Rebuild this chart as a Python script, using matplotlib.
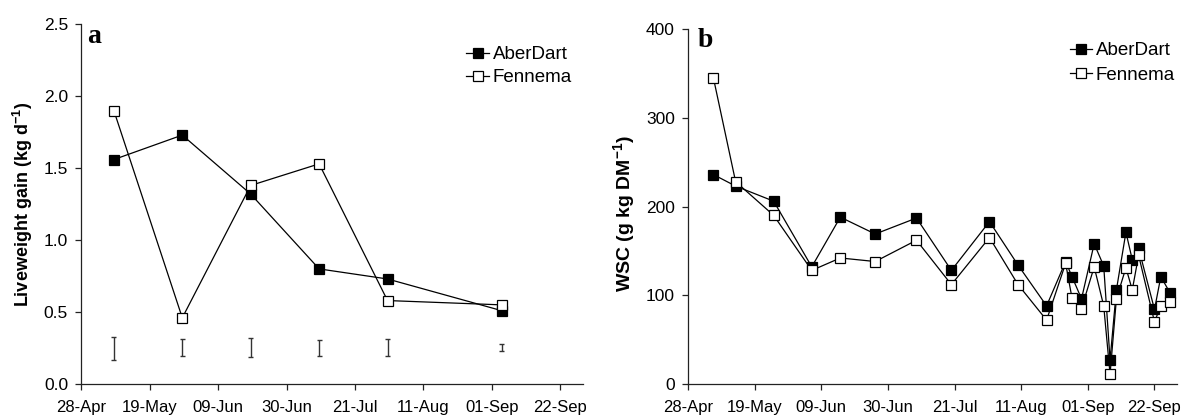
import matplotlib
matplotlib.use("Agg")
import matplotlib.pyplot as plt
import matplotlib.dates as mdates
import matplotlib.ticker as mticker
import pandas as pd

plt.rcParams['font.family'] = ['Liberation Sans', 'DejaVu Sans']
plt.rcParams['mathtext.fontset'] = 'custom'
plt.rcParams['mathtext.rm'] = 'Liberation Sans'
plt.rcParams['mathtext.bf'] = 'Liberation Sans:bold'

# ---- Panel a: liveweight gain ----
lwg_dates = pd.to_datetime(['2005-05-08', '2005-05-29', '2005-06-19',
                            '2005-07-10', '2005-07-31', '2005-09-04'])
lwg_aberdart = [1.56, 1.73, 1.32, 0.80, 0.73, 0.51]
lwg_fennema = [1.90, 0.46, 1.38, 1.53, 0.58, 0.55]
err_low = [0.17, 0.195, 0.185, 0.197, 0.195, 0.227]
err_high = [0.33, 0.31, 0.32, 0.306, 0.31, 0.276]

# ---- Panel b: WSC ----
wsc_dates = pd.to_datetime(['2005-05-06', '2005-05-13', '2005-05-25', '2005-06-06',
                            '2005-06-15', '2005-06-26', '2005-07-09', '2005-07-20',
                            '2005-08-01', '2005-08-10', '2005-08-19', '2005-08-25',
                            '2005-08-27', '2005-08-30', '2005-09-03', '2005-09-06',
                            '2005-09-08', '2005-09-10', '2005-09-13', '2005-09-15',
                            '2005-09-17', '2005-09-22', '2005-09-24', '2005-09-27'])
wsc_aberdart = [236, 223, 206, 132, 188, 169, 187, 128, 183, 134, 88, 138,
                121, 96, 158, 133, 27, 106, 171, 140, 153, 84, 121, 102]
wsc_fennema = [345, 228, 190, 128, 142, 138, 162, 112, 165, 112, 72, 136,
               97, 85, 132, 88, 11, 96, 131, 106, 145, 70, 88, 92]

series_names = ['AberDart', 'Fennema']
x_ticks = pd.date_range('2005-04-28', '2005-09-22', freq='21D')
x_min = pd.Timestamp('2005-04-28')
x_max = pd.Timestamp('2005-09-29')

W, H = 1184, 416
fig = plt.figure(figsize=(W / 100, H / 100), dpi=100)

def px_axes(l, r, t, b):
    return fig.add_axes([l / W, 1 - b / H, (r - l) / W, (b - t) / H])

ax1 = px_axes(81.3, 583, 24.3, 384)
ax2 = px_axes(688, 1176.7, 29, 384)

mk = dict(marker='s', markersize=7, linewidth=0.9, color='black',
          markeredgewidth=0.9)
LEG_FS = 13.5

def style(ax):
    for s in ['top', 'right']:
        ax.spines[s].set_visible(False)
    for s in ['left', 'bottom']:
        ax.spines[s].set_linewidth(0.9)
        ax.spines[s].set_color('#222222')
    ax.set_xlim(x_min, x_max)
    ax.set_xticks(x_ticks)
    ax.xaxis.set_major_formatter(mdates.DateFormatter('%d-%b'))
    ax.tick_params(axis='both', direction='out', length=4, width=0.9,
                   color='#222222')
    ax.tick_params(axis='x', pad=7.5, labelsize=12)
    ax.tick_params(axis='y', pad=5.5, labelsize=12.5)

# Panel a
ax1.plot(lwg_dates, lwg_aberdart, markerfacecolor='black', label=series_names[0],
         zorder=3, **mk)
ax1.plot(lwg_dates, lwg_fennema, markerfacecolor='white', label=series_names[1],
         zorder=4, **mk)
ax1.vlines(lwg_dates, err_low, err_high, color='#333333', linewidth=1.0)
cap = pd.Timedelta(hours=18)
ax1.hlines(err_low, lwg_dates - cap, lwg_dates + cap, color='#333333', linewidth=1.0)
ax1.hlines(err_high, lwg_dates - cap, lwg_dates + cap, color='#333333', linewidth=1.0)
ax1.set_ylim(0, 2.5)
ax1.set_yticks([0.0, 0.5, 1.0, 1.5, 2.0, 2.5])
ax1.yaxis.set_major_formatter(mticker.FormatStrFormatter('%.1f'))
style(ax1)
ax1.set_ylabel(r'Liveweight gain (kg d$^{\mathbf{-1}}$)', fontsize=13,
               fontweight='bold')
ax1.yaxis.set_label_coords(-46.3 / 501.7, 0.5)
ax1.text(0.0114, 0.948, 'a', transform=ax1.transAxes, fontsize=20,
         fontweight='bold', family='Liberation Serif', va='baseline', ha='left')
ax1.legend(loc='upper right', bbox_to_anchor=(1.0, 0.97), frameon=False,
           fontsize=LEG_FS, handlelength=1.2, handletextpad=0.2, labelspacing=0.3,
           borderaxespad=0.2)

# Panel b
ax2.plot(wsc_dates, wsc_aberdart, markerfacecolor='black', label=series_names[0],
         zorder=3, **mk)
ax2.plot(wsc_dates, wsc_fennema, markerfacecolor='white', label=series_names[1],
         zorder=4, **mk)
ax2.set_ylim(0, 400)
ax2.set_yticks([0, 100, 200, 300, 400])
style(ax2)
ax2.set_ylabel(r'WSC (g kg DM$^{\mathbf{-1}}$)', fontsize=14, fontweight='bold')
ax2.yaxis.set_label_coords(-50 / 488.7, 0.48)
ax2.text(0.0205, 0.949, 'b', transform=ax2.transAxes, fontsize=20,
         fontweight='bold', family='Liberation Serif', va='baseline', ha='left')
ax2.legend(loc='upper right', bbox_to_anchor=(1.02, 0.995), frameon=False,
           fontsize=LEG_FS, handlelength=1.2, handletextpad=0.2, labelspacing=0.4,
           borderaxespad=0.2)

fig.savefig('out.png', dpi=100)
